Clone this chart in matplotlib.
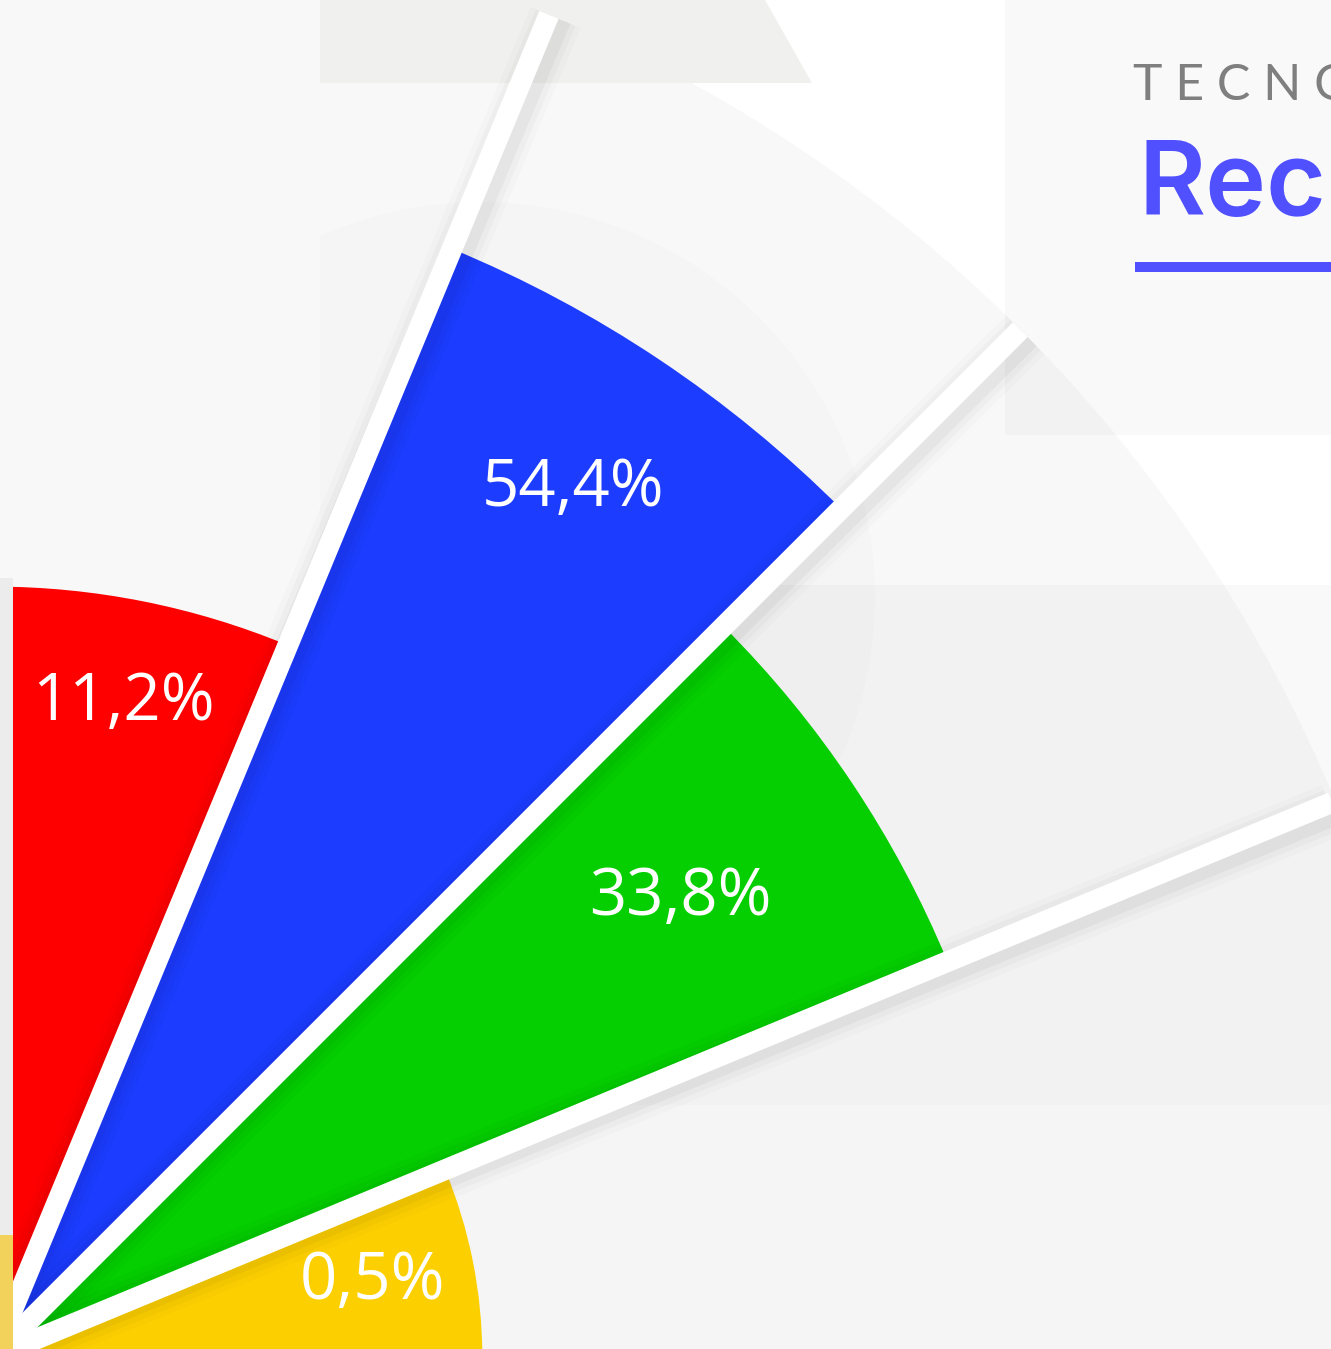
import numpy as np
import matplotlib
matplotlib.use('Agg')
import matplotlib.pyplot as plt
from matplotlib.patches import Rectangle, Polygon, Wedge, Circle

# data
values = [11.2, 54.4, 33.8, 0.5]
labels = ['11,2%', '54,4%', '33,8%', '0,5%']
colors = ['#ff0000', '#1c3cff', '#05cf00', '#fcd000']

W, H = 1331, 1349
cx, cy = -7, -8          # pie centre in pixels (y up), sits just off the corner
R = 1453                 # outer grey circle radius in pixels
step = 22.5
label_frac = [0.865, 0.87, 0.80, 0.79]


def radius(v):
    # square-root scale with an offset, fitted to the picture
    return 414 + 106.5 * np.sqrt(v)


fig = plt.figure(figsize=(W / 100, H / 100), dpi=100)
fig.patch.set_facecolor('#f8f8f8')

# background panels (pixel coords, y up)
bg = fig.add_axes([0, 0, 1, 1])
bg.set_xlim(0, W)
bg.set_ylim(0, H)
bg.axis('off')
bg.add_patch(Rectangle((320, 0), 1011, 244, color='#fcfcfc', lw=0))
bg.add_patch(Rectangle((320, 244), 1011, 520, color='#f9f9f9', lw=0))
bg.add_patch(Rectangle((320, 764), 1011, 585, color='#ffffff', lw=0))
bg.add_patch(Rectangle((1005, 914), 326, 435, color='#f9f9f9', lw=0))
bg.add_patch(Wedge((cx, cy), R, 0, 90, color='k', alpha=0.028, lw=0))
bg.add_patch(Circle((480, H - 597), 395, color='k', alpha=0.012, lw=0))
bg.add_patch(Rectangle((0, 0), 320, H, color='#f8f8f8', lw=0))
bg.add_patch(Polygon([(320, 1266), (812, 1266), (765, 1349), (320, 1349)],
                     closed=True, color='#f0f0ef', lw=0))

# title block (cut by the right edge)
bg.text(1133, 1249, 'T E C N O L O G Í A', fontsize=36, color='#7f7f7f',
        family=['Lato', 'DejaVu Sans'], ha='left', va='baseline')
bg.text(1138, 1134, 'Recursos', fontsize=74, color='#5050ff',
        family=['Inter', 'DejaVu Sans'], fontweight='semibold', ha='left', va='baseline')
bg.add_patch(Rectangle((1135, 1077), 200, 10, color='#5050ff', lw=0))

# polar axes centred on the corner
ax = fig.add_axes([(cx - R) / W, (cy - R) / H, 2 * R / W, 2 * R / H], projection='polar')
ax.set_theta_zero_location('E')
ax.set_ylim(0, R)
ax.axis('off')
ax.patch.set_alpha(0)

n = len(values)
theta_mid = np.deg2rad(90 - step * (np.arange(n) + 0.5))
radii = radius(np.array(values))
ax.bar(theta_mid, radii, width=np.deg2rad(step), bottom=0, color=colors,
       edgecolor='none', zorder=2)

# separators with a soft shadow on the clockwise side
for k in range(1, n):
    th = np.deg2rad(step * k)
    for extra, a in [(24, 0.015), (16, 0.025), (8, 0.035)]:
        ax.plot([th - 0.005, th - 0.005], [0, R], color='k', alpha=a, lw=15 + extra,
                solid_capstyle='butt', zorder=3)
    ax.plot([th, th], [0, R], color='white', lw=15, solid_capstyle='butt', zorder=4)

for i in range(n):
    ax.text(theta_mid[i], radii[i] * label_frac[i], labels[i], color='white',
            fontsize=47, family=['Open Sans', 'DejaVu Sans'], ha='center', va='center',
            zorder=5)

# strip at the left border
fig.add_artist(Rectangle((0, 114 / H), 13 / W, (771 - 114) / H, transform=fig.transFigure,
                         color='#ececec', lw=0))
fig.add_artist(Rectangle((0, 0), 13 / W, 114 / H, transform=fig.transFigure,
                         color='#f2d25a', lw=0))

fig.savefig('out.png', dpi=100, facecolor=fig.get_facecolor())
